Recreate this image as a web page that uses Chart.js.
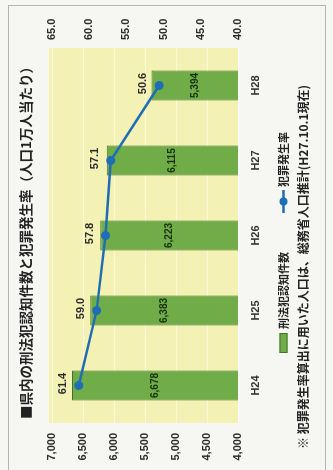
<!DOCTYPE html>
<html lang="ja">
<head>
    <meta charset="UTF-8">
    <title>刑法犯認知件数と犯罪発生率</title>
    <script src="https://cdn.jsdelivr.net/npm/chart.js@4.4.1/dist/chart.umd.min.js"></script>
    <style>
        html, body {
            margin: 0;
            padding: 0;
            overflow: hidden;
            background: #f6f6f3;
        }
        /* chart is laid out landscape, then turned to stand on its side */
        #rotator {
            position: absolute;
            left: 0;
            top: 0;
            width: 470px;
            height: 333px;
            transform-origin: 0 0;
            transform: translateY(470px) rotate(-90deg);
        }
    </style>
</head>
<body>

<div id="rotator">
    <canvas id="myChart" width="470" height="333"></canvas>
</div>

<script>
    var years = ['H24', 'H25', 'H26', 'H27', 'H28'];
    var crimeCounts = [6678, 6383, 6223, 6115, 5394];
    var crimeRates = [61.4, 59.0, 57.8, 57.1, 50.6];

    var titleText = '■県内の刑法犯認知件数と犯罪発生率（人口1万人当たり）';
    var noteText = '※ 犯罪発生率算出に用いた人口は、総務省人口推計(H27.10.1現在)';

    var FONT = "'Liberation Sans', 'Noto Sans CJK JP', sans-serif";
    var JP_FONT = "'Noto Sans CJK JP', 'Liberation Sans', sans-serif";
    var barGreen = '#70ad48';
    var barEdge = '#44712a';
    var lineBlue = '#1f6db5';

    // yellow plot panel + outer frame
    var panelPlugin = {
        id: 'panel',
        beforeDraw: function (chart) {
            var ctx = chart.ctx, a = chart.chartArea;
            ctx.save();
            ctx.fillStyle = '#f4f1b4';
            ctx.fillRect(a.left, a.top - 3, a.right - a.left, a.bottom - a.top + 3);
            ctx.strokeStyle = '#b4b4b0';
            ctx.lineWidth = 1;
            ctx.strokeRect(-5.5, 8.5, 470, 317);
            ctx.restore();
        }
    };

    // value labels, title, legend and note
    var textPlugin = {
        id: 'texts',
        afterDatasetsDraw: function (chart) {
            var ctx = chart.ctx;
            var bottom = chart.chartArea.bottom;
            ctx.save();
            ctx.textAlign = 'center';
            ctx.textBaseline = 'middle';

            // bars start below the 4,000 floor, so centre the text on the visible part
            var bars = chart.getDatasetMeta(0).data;
            ctx.font = 'bold 10px ' + FONT;
            ctx.fillStyle = '#18300f';
            bars.forEach(function (el, i) {
                var base = Math.min(el.base, bottom);
                ctx.fillText(crimeCounts[i].toLocaleString('en-US'), el.x, (el.y + base) / 2);
            });

            var pts = chart.getDatasetMeta(1).data;
            ctx.font = 'bold 11px ' + FONT;
            ctx.fillStyle = '#2b2b2b';
            pts.forEach(function (el, i) {
                ctx.fillText(crimeRates[i].toFixed(1), el.x + 2, el.y - 16);
            });
            ctx.restore();
        },
        afterDraw: function (chart) {
            var ctx = chart.ctx;
            ctx.save();
            ctx.textBaseline = 'middle';
            ctx.textAlign = 'left';
            ctx.fillStyle = '#222';
            ctx.font = 'bold 13.5px ' + JP_FONT;
            ctx.fillText(titleText, 51, 26);

            // legend
            var ly = 283.5;
            ctx.fillStyle = barGreen;
            ctx.fillRect(117, ly - 4, 20, 8);
            ctx.strokeStyle = barEdge;
            ctx.lineWidth = 1;
            ctx.strokeRect(117.5, ly - 3.5, 19, 7);
            ctx.fillStyle = '#222';
            ctx.font = 'bold 11px ' + JP_FONT;
            ctx.fillText(chart.data.datasets[0].label, 141, ly);

            ctx.strokeStyle = lineBlue;
            ctx.lineWidth = 2.5;
            ctx.beginPath();
            ctx.moveTo(257, ly);
            ctx.lineTo(280, ly);
            ctx.stroke();
            ctx.fillStyle = lineBlue;
            ctx.beginPath();
            ctx.arc(268.5, ly, 4, 0, Math.PI * 2);
            ctx.fill();
            ctx.fillStyle = '#222';
            ctx.fillText(chart.data.datasets[1].label, 283, ly);

            ctx.font = 'bold 12px ' + JP_FONT;
            ctx.fillText(noteText, 21, 303.5);
            ctx.restore();
        }
    };

    var ctx = document.getElementById('myChart');
    var myChart = new Chart(ctx, {
        data: {
            labels: years,
            datasets: [
                {
                    type: 'bar',
                    label: '刑法犯認知件数',
                    data: crimeCounts,
                    yAxisID: 'y',
                    backgroundColor: barGreen,
                    borderColor: barEdge,
                    borderWidth: 1,
                    barPercentage: 0.4,
                    categoryPercentage: 1.0,
                    order: 2
                },
                {
                    type: 'line',
                    label: '犯罪発生率',
                    data: crimeRates,
                    yAxisID: 'y1',
                    borderColor: lineBlue,
                    backgroundColor: lineBlue,
                    borderWidth: 2.5,
                    pointRadius: 4.5,
                    pointBackgroundColor: lineBlue,
                    pointBorderWidth: 0,
                    tension: 0,
                    order: 1
                }
            ]
        },
        options: {
            responsive: false,
            animation: false,
            layout: {
                padding: { left: 0, right: 0, top: 52, bottom: 0 }
            },
            plugins: {
                legend: { display: false },
                title: { display: false },
                tooltip: { enabled: false }
            },
            scales: {
                x: {
                    grid: { display: false, drawTicks: false },
                    border: { display: false },
                    ticks: {
                        padding: 11,
                        color: '#333',
                        font: { family: FONT, size: 11, weight: 'bold' }
                    },
                    afterFit: function (scale) { scale.height = 95; }
                },
                y: {
                    position: 'left',
                    min: 4000,
                    max: 7000,
                    grid: { color: 'rgba(255,255,255,0.55)', drawTicks: false },
                    border: { display: false },
                    ticks: {
                        stepSize: 500,
                        padding: 10,
                        color: '#2b2b2b',
                        font: { family: FONT, size: 11, weight: 'bold' },
                        callback: function (v) { return v.toLocaleString('en-US'); }
                    },
                    afterFit: function (scale) { scale.width = 47; }
                },
                y1: {
                    position: 'right',
                    min: 40,
                    max: 65,
                    grid: { display: false, drawTicks: false },
                    border: { display: false },
                    ticks: {
                        stepSize: 5,
                        padding: 8,
                        color: '#2b2b2b',
                        font: { family: FONT, size: 11, weight: 'bold' },
                        callback: function (v) { return v.toFixed(1); }
                    },
                    afterFit: function (scale) { scale.width = 48; }
                }
            }
        },
        plugins: [panelPlugin, textPlugin]
    });
</script>

</body>
</html>
